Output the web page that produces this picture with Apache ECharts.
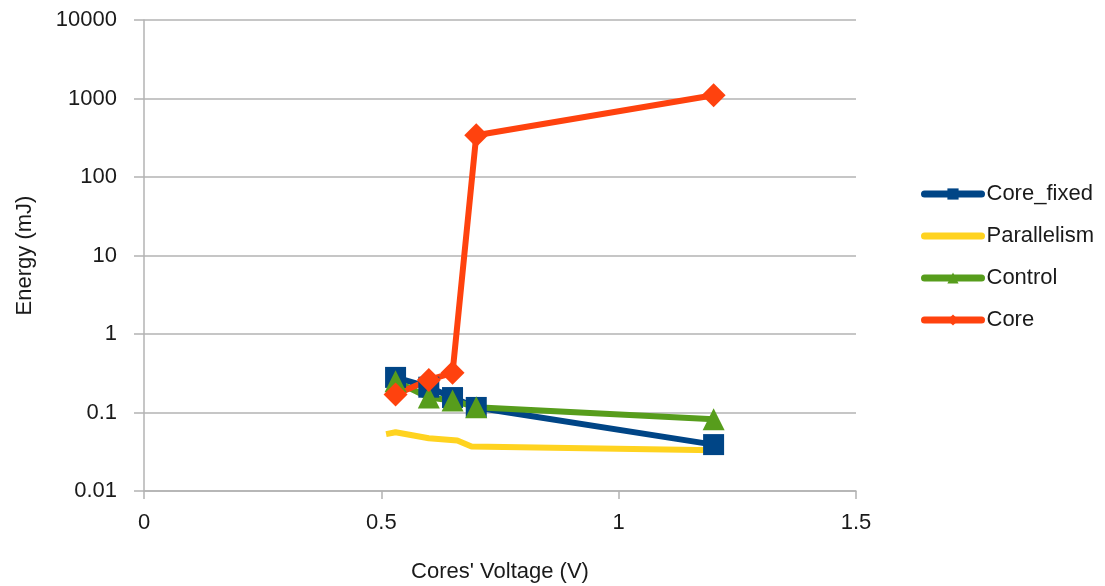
<!DOCTYPE html>
<html>
<head>
<meta charset="utf-8">
<script src="https://cdn.jsdelivr.net/npm/echarts@6/dist/echarts.min.js"></script>
<style>
  html, body { margin: 0; padding: 0; background: #ffffff; }
  #chart { width: 1105px; height: 586px; }
</style>
</head>
<body>
<div id="chart"></div>
<script>
// Core voltage (V) for the measured operating points
const voltage = [0.53, 0.6, 0.65, 0.7, 1.2];
const parallelismVoltage = [0.51, 0.53, 0.6, 0.66, 0.69, 1.2];

// Energy (mJ) per configuration
const coreFixed = [0.28, 0.21, 0.155, 0.116, 0.039];
const parallelism = [0.053, 0.056, 0.047, 0.044, 0.037, 0.033];
const control = [0.25, 0.155, 0.142, 0.117, 0.082];
const core = [0.17, 0.26, 0.32, 340, 1100];

const yTicks = [0.01, 0.1, 1, 10, 100, 1000, 10000];
const xTicks = [0, 0.5, 1, 1.5];

const pairs = (xs, ys) => xs.map((x, i) => [x, ys[i]]);

const font = 'Liberation Sans, Arial, sans-serif';
const fontSize = 22;

const chart = echarts.init(document.getElementById('chart'), null, { renderer: 'canvas' });

function lineSeries(name, color, data, symbol, size) {
  return {
    name: name,
    type: 'line',
    data: data,
    symbol: symbol,
    symbolSize: size,
    showSymbol: symbol !== 'none',
    lineStyle: { color: color, width: 6 },
    itemStyle: { color: color },
    emphasis: { disabled: true },
    animation: false
  };
}

chart.setOption({
  backgroundColor: '#ffffff',
  animation: false,
  grid: { left: 144, top: 20, width: 712, height: 471, outerBoundsMode: 'none', containLabel: false },
  xAxis: {
    type: 'value',
    min: xTicks[0],
    max: xTicks[xTicks.length - 1],
    interval: 0.5,
    name: "Cores' Voltage (V)",
    nameLocation: 'middle',
    nameGap: 70,
    nameTextStyle: { fontFamily: font, fontSize: fontSize, color: '#1a1a1a' },
    axisLine: { lineStyle: { color: '#b3b3b3', width: 1.5 } },
    axisTick: { show: true, length: 8, lineStyle: { color: '#b3b3b3', width: 1.5 } },
    axisLabel: { fontFamily: font, fontSize: fontSize, color: '#1a1a1a', margin: 21 },
    splitLine: { show: false }
  },
  yAxis: {
    type: 'log',
    logBase: 10,
    min: yTicks[0],
    max: yTicks[yTicks.length - 1],
    name: 'Energy (mJ)',
    nameLocation: 'middle',
    nameGap: 108,
    nameRotate: 90,
    nameTextStyle: { fontFamily: font, fontSize: fontSize, color: '#1a1a1a' },
    axisLine: { show: true, lineStyle: { color: '#b3b3b3', width: 1.5 } },
    axisTick: { show: true, length: 10, lineStyle: { color: '#b3b3b3', width: 1.5 } },
    axisLabel: {
      fontFamily: font, fontSize: fontSize, color: '#1a1a1a', margin: 27,
      formatter: v => String(Number(v.toPrecision(6)))
    },
    splitLine: { show: true, lineStyle: { color: '#b3b3b3', width: 1.5 } }
  },
  legend: {
    orient: 'vertical',
    left: 916,
    top: 178,
    itemWidth: 57,
    itemHeight: 14,
    itemGap: 20,
    lineStyle: { width: 7, cap: 'round' },
    textStyle: { fontFamily: font, fontSize: fontSize, color: '#1a1a1a' },
    data: [
      'Core_fixed',
      { name: 'Parallelism', itemStyle: { color: 'rgba(0,0,0,0)', borderWidth: 0 } },
      'Control',
      'Core'
    ]
  },
  series: [
    lineSeries('Core_fixed', '#004586', pairs(voltage, coreFixed), 'rect', 21),
    lineSeries('Parallelism', '#ffd320', pairs(parallelismVoltage, parallelism), 'none', 0),
    lineSeries('Control', '#579d1c', pairs(voltage, control), 'triangle', 22),
    lineSeries('Core', '#ff420e', pairs(voltage, core), 'diamond', 24)
  ]
});
</script>
</body>
</html>
